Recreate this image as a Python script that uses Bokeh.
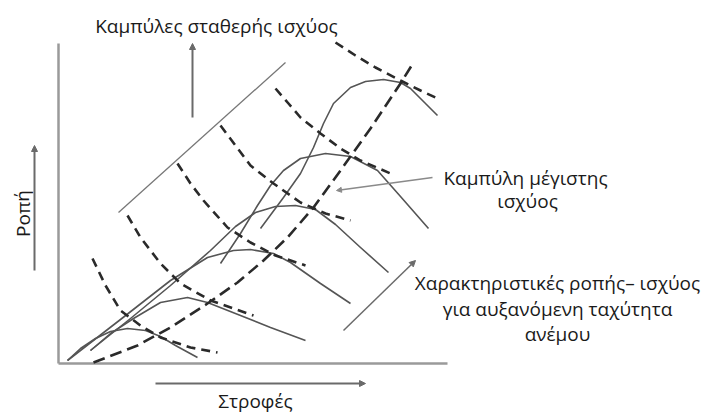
from bokeh.plotting import figure
from bokeh.models import Range1d, Arrow, NormalHead
from bokeh.core.properties import value
from bokeh.embed import file_html
from bokeh.resources import INLINE

# ---- data (speed on x, torque on y, schematic units) ----
# torque-speed characteristics for increasing wind speed (solid)
c1_x = [9, 22, 37, 52, 69, 87, 102, 117, 139]
c1_y = [3, 15, 25, 32, 35, 33, 27, 18, 6]
c2_x = [32, 52, 75, 102, 129, 149, 182, 212, 247]
c2_y = [13, 30, 45, 61, 66, 61, 48, 36, 23]
c3_x = [9, 62, 112, 149, 175, 192, 215, 232, 262, 292]
c3_y = [3, 44, 83, 106, 113, 114, 110, 101, 80, 60]
c4_x = [32, 72, 112, 152, 177, 197, 217, 237, 257, 277, 302, 330]
c4_y = [13, 45, 78, 113, 137, 151, 157, 158, 154, 139, 116, 91]
c5_x = [162, 182, 199, 212, 225, 242, 267, 292, 319, 342, 370]
c5_y = [100, 130, 158, 178, 193, 205, 210, 207, 193, 167, 135]
c6_x = [202, 225, 242, 255, 265, 275, 292, 307, 325, 342, 352, 364, 379]
c6_y = [135, 166, 190, 216, 240, 260, 276, 282, 284, 281, 275, 263, 248]

# constant power curves (dashed)
d1_x = [34, 47, 62, 82, 102, 132, 159]
d1_y = [105, 78, 53, 38, 26, 16, 11]
d2_x = [69, 82, 102, 122, 152, 195]
d2_y = [148, 126, 100, 80, 63, 48]
d3_x = [119, 132, 145, 169, 192, 217, 247]
d3_y = [200, 180, 163, 136, 121, 108, 98]
d4_x = [162, 177, 192, 215, 242, 267, 292]
d4_y = [238, 218, 198, 180, 161, 150, 143]
d5_x = [217, 230, 242, 262, 282, 302, 332]
d5_y = [275, 260, 246, 230, 215, 203, 190]
d6_x = [277, 297, 317, 342, 362, 379]
d6_y = [321, 308, 296, 283, 273, 265]

# maximum power curve (dashed)
mp_x = [35, 79, 112, 149, 179, 205, 229, 255, 282, 312, 342, 355]
mp_y = [1, 18, 36, 60, 81, 103, 126, 156, 193, 235, 280, 301]

# axes extents
x_axis_end = 389
y_axis_end = 320

# labels
title_label = "Καμπύλες σταθερής ισχύος"
y_label = "Ροπή"
x_label = "Στροφές"
maxp_label = ["Καμπύλη μέγιστης", "ισχύος"]
wind_label = ["Χαρακτηριστικές ροπής– ισχύος", "για αυξανόμενη ταχύτητα", "ανέμου"]

FONT = "Open Sans"
FS = "19px"
TXT = "#1a1a1a"

p = figure(width=707, height=413, output_backend="svg", toolbar_location=None,
           x_range=Range1d(-58, 649), y_range=Range1d(-50, 363),
           min_border=0, outline_line_color=None, background_fill_color="white")
p.axis.visible = False
p.grid.visible = False

# axes lines
p.segment(x0=[0, 0], y0=[0, 0], x1=[0, x_axis_end], y1=[y_axis_end, 0],
          line_color="#9a9a9a", line_width=2.5)

# bracket line for constant power curves
p.segment(x0=[60], y0=[151], x1=[227], y1=[301], line_color="#777777", line_width=1.3)

solid = [(c1_x, c1_y), (c2_x, c2_y), (c3_x, c3_y), (c4_x, c4_y), (c5_x, c5_y), (c6_x, c6_y)]
for xs, ys in solid:
    p.line(xs, ys, line_color="#555555", line_width=1.6, line_join="round")

dashed = [(d1_x, d1_y), (d2_x, d2_y), (d3_x, d3_y), (d4_x, d4_y), (d5_x, d5_y), (d6_x, d6_y)]
for xs, ys in dashed:
    p.line(xs, ys, line_color="#2a2a2a", line_width=2.6, line_dash="9 6")

p.line(mp_x, mp_y, line_color="#2a2a2a", line_width=2.6, line_dash="12 6")

def arrow(x0, y0, x1, y1, color="#6a6a6a", w=2.0, size=6):
    p.add_layout(Arrow(x_start=x0, y_start=y0, x_end=x1, y_end=y1,
                       line_color=color, line_width=w,
                       end=NormalHead(size=size, fill_color=color, line_color=color)))

arrow(134, 246, 134, 320)        # constant power arrow
arrow(-24, 93, -24, 218)         # torque arrow
arrow(97, -20, 307, -20)         # speed arrow
arrow(285, 33, 357, 103, w=1.5)  # increasing wind speed
arrow(374, 186, 278, 173, color="#8a8a8a", w=1.5, size=5)  # max power pointer

def txt(x, y, s, angle=0.0):
    p.text(x=[x], y=[y], text=[s], angle=angle, text_font=value(FONT),
           text_font_size=FS, text_color=TXT, text_align="center",
           text_baseline="middle")

txt(158, 338, title_label)
txt(-36, 150, y_label, angle=1.5708)
txt(197, -37, x_label)
txt(467, 186, maxp_label[0])
txt(469, 163, maxp_label[1])
txt(499, 81, wind_label[0])
txt(499, 55, wind_label[1])
txt(499, 30, wind_label[2])

open("out.html", "w").write(file_html(p, INLINE))
